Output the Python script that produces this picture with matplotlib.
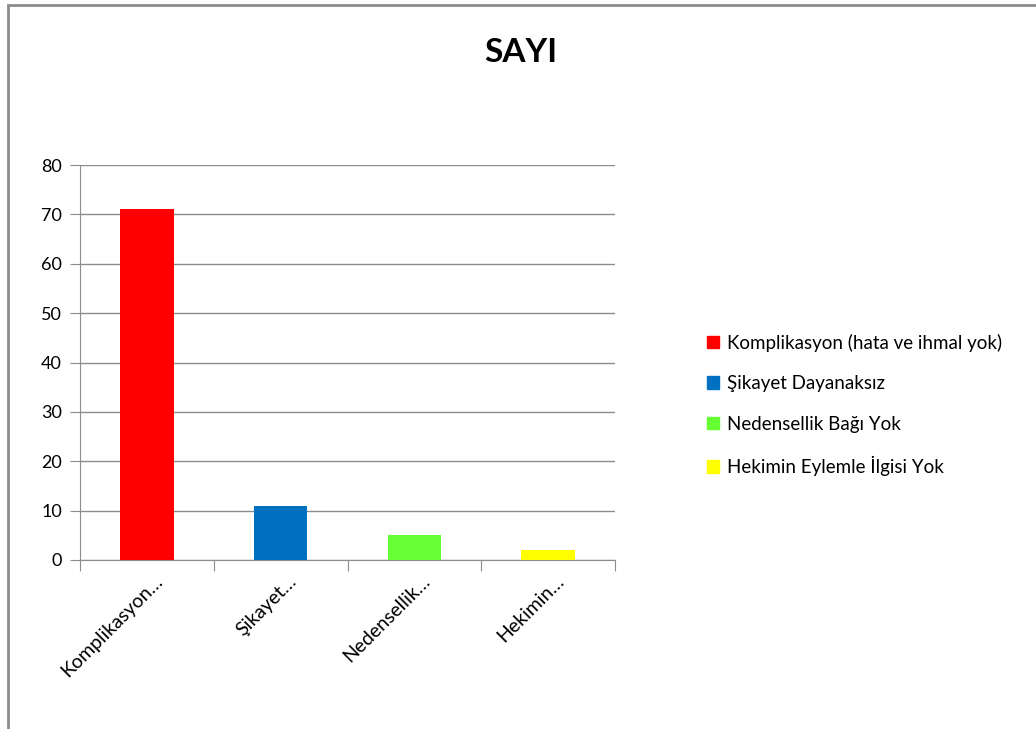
import matplotlib.pyplot as plt
from matplotlib.patches import Rectangle, Patch
from matplotlib.transforms import ScaledTranslation

plt.rcParams['font.family'] = ['Lato', 'DejaVu Sans']

categories = ['Komplikasyon (hata ve ihmal yok)', 'Şikayet Dayanaksız',
              'Nedensellik Bağı Yok', 'Hekimin Eylemle İlgisi Yok']
tick_labels = ['Komplikasyon…', 'Şikayet…', 'Nedensellik…', 'Hekimin…']
values = [71, 11, 5, 2]
colors = ['#FF0000', '#0070C0', '#66FF33', '#FFFF00']

fig = plt.figure(figsize=(10.36, 7.29), dpi=100)
ax = fig.add_axes([80/1036, 1 - 560/729, 535/1036, 395/729])

x = range(len(values))
ax.bar(x, values, width=0.4, color=colors, zorder=3)

ax.set_xlim(-0.5, 3.5)
ax.set_ylim(0, 80)
ax.set_yticks(range(0, 81, 10))
ax.grid(axis='y', color='#8c8c8c', lw=1, zorder=0)

# category boundaries carry the tick marks, centres carry the labels
ax.set_xticks([i + 0.5 for i in range(-1, 4)], minor=False)
ax.set_xticklabels([])
ax.set_xticks(list(x), minor=True)
ax.set_xticklabels(tick_labels, minor=True, rotation=45, ha='right',
                   rotation_mode='anchor', fontsize=14)
ax.tick_params(axis='x', which='minor', length=0, pad=9)
ax.tick_params(axis='x', which='major', length=8, color='#8c8c8c')
ax.tick_params(axis='y', length=7, color='#8c8c8c', labelsize=13, pad=6)
shift = ScaledTranslation(7/100, 0, fig.dpi_scale_trans)
for lbl in ax.get_xticklabels(minor=True):
    lbl.set_transform(lbl.get_transform() + shift)

for s in ['top', 'right']:
    ax.spines[s].set_visible(False)
ax.spines['left'].set_color('#8c8c8c')
ax.spines['bottom'].set_color('#8c8c8c')

handles = [Patch(color=c, label=l) for c, l in zip(colors, categories)]
fig.legend(handles=handles, loc='center left', bbox_to_anchor=(690/1036, 1 - 405/729),
           frameon=False, fontsize=13.5, handlelength=0.65, handleheight=0.65,
           handletextpad=0.4, labelspacing=1.25)

fig.text(521/1036, 1 - 52/729, 'SAYI', ha='center', va='center',
         fontsize=24, fontweight='bold')

fig.patches.append(Rectangle((8/1036, -0.1), 1.2, 1 - 5/729 + 0.1,
                             transform=fig.transFigure, fill=False,
                             edgecolor='#8c8c8c', lw=2))

fig.savefig('out.png', dpi=100)
